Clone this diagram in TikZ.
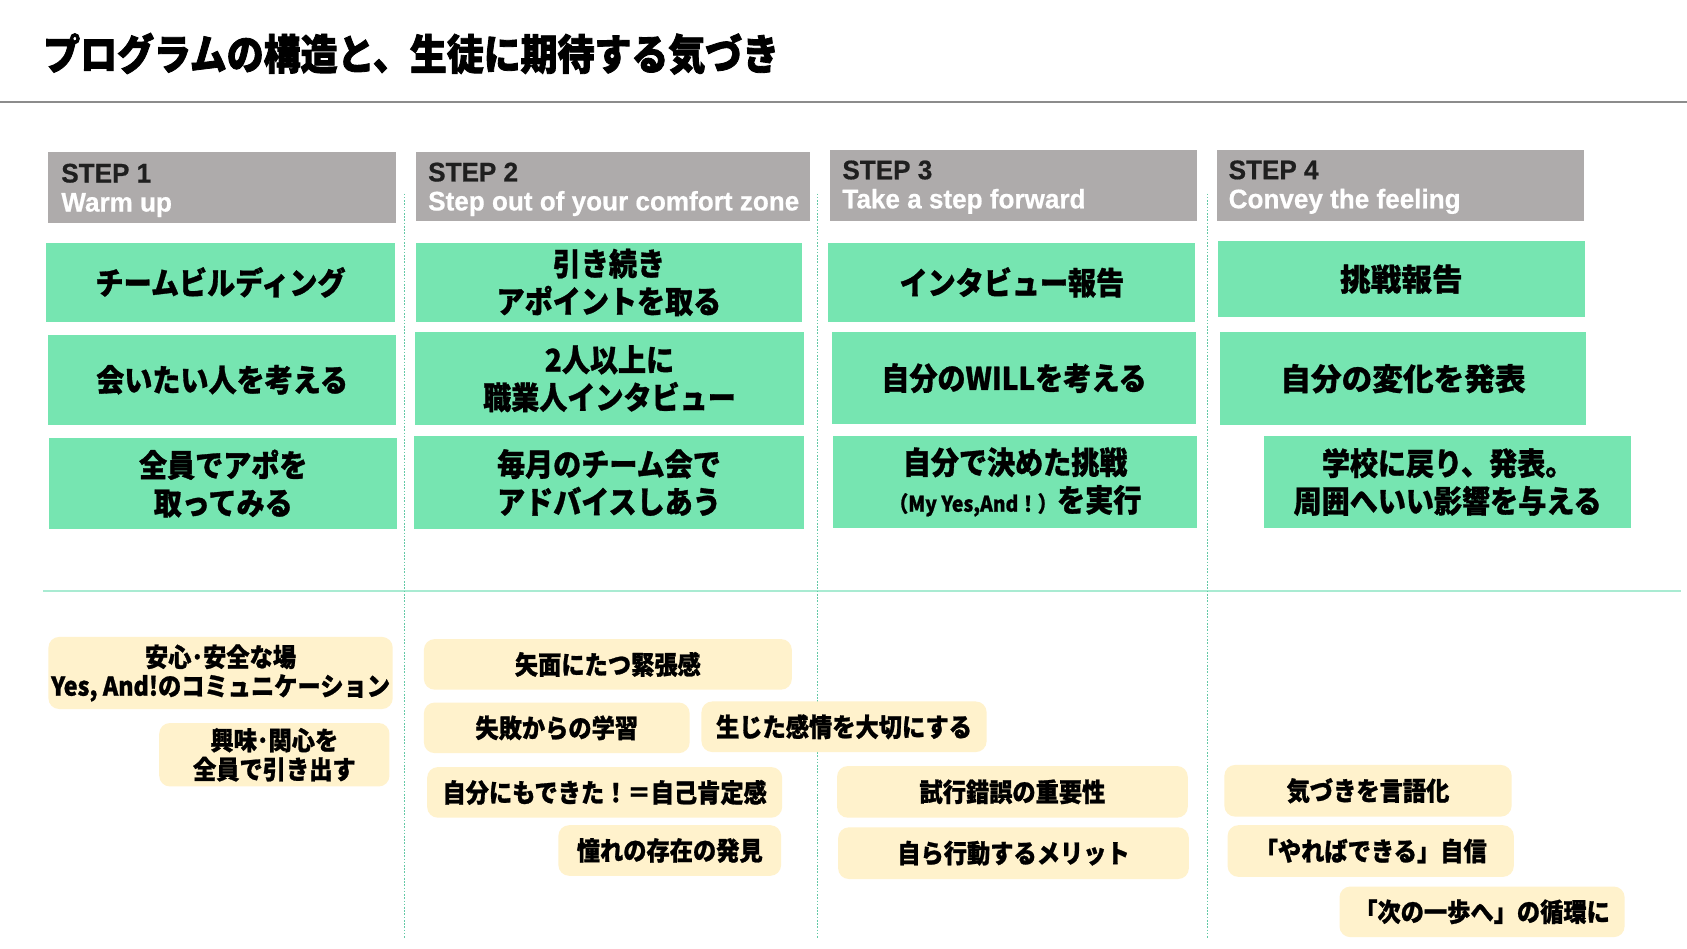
\documentclass[tikz,border=0pt]{standalone}
\usepackage{fontspec}
\newfontfamily\titlefont{Noto Sans CJK JP Black}[FakeStretch=0.88, FakeBold=2]
\newfontfamily\jpfont{Noto Sans CJK JP Black}[FakeStretch=0.9, FakeBold=1]
\newfontfamily\jpwide{Noto Sans CJK JP Black}[FakeBold=1]
\newfontfamily\headfont{Liberation Sans Bold}[FakeStretch=0.97, FakeBold=0.6]
\definecolor{headgray}{HTML}{AEABAB}
\definecolor{actgreen}{HTML}{76E5B1}
\definecolor{gaincream}{HTML}{FFF2CC}
\definecolor{sepgreen}{HTML}{63C9A6}
\definecolor{rulemint}{HTML}{A9EBD2}
\begin{document}
\begin{tikzpicture}[x=1pt,y=-1pt,
  wh/.style 2 args={minimum width=#1pt, minimum height=#2pt},
  head/.style={fill=headgray, inner sep=0pt},
  headtxt/.style={anchor=west, inner sep=0pt, align=left,
    text=black!88, font=\headfont\fontsize{25}{27}\selectfont},
  act/.style={fill=actgreen, inner sep=0pt, align=center,
    font=\jpfont\fontsize{29}{35}\selectfont},
  gain/.style={fill=gaincream, rounded corners=10pt, inner sep=0pt, align=center,
    font=\jpfont\fontsize{24}{27}\selectfont}]
\fill[white] (0,0) rectangle (1568,882);
\useasboundingbox (0,0) rectangle (1568,882);

% title and rules
\node[anchor=west, inner sep=0pt, font=\titlefont\fontsize{39}{39}\selectfont] (title) at (40,50)
  {プログラムの構造と、生徒に期待する気づき};
\draw[black!45, line width=1.5pt] (0,95) -- (1568,95);
\draw[rulemint, line width=2pt] (40,549) -- (1562,549);
\foreach \x in {376,760,1122}
  \draw[sepgreen, line width=0.9pt, dash pattern=on 1.5pt off 1.5pt] (\x,180) -- (\x,872);

% step headers
\node[head, wh={323}{66}] (h1) at (206.5,174) {};
\node[head, wh={366}{64}] (h2) at (570,173) {};
\node[head, wh={342}{66}] (h3) at (942,172) {};
\node[head, wh={341}{66}] (h4) at (1301.5,172) {};
\node[headtxt] (t1) at ([xshift=12pt,yshift=-3pt]h1.west) {STEP 1\\\textcolor{white}{Warm up}};
\node[headtxt] (t2) at ([xshift=11pt,yshift=-3pt]h2.west) {STEP 2\\\textcolor{white}{Step out of your comfort zone}};
\node[headtxt] (t3) at ([xshift=12pt,yshift=-2pt]h3.west) {STEP 3\\\textcolor{white}{Take a step forward}};
\node[headtxt] (t4) at ([xshift=11pt,yshift=-2pt]h4.west) {STEP 4\\\textcolor{white}{Convey the feeling}};

% activities
\node[act, wh={324}{73}] (a11) at (205,262.5) {チームビルディング};
\node[act, wh={323}{84}] (a12) at (206.5,353) {会いたい人を考える};
\node[act, wh={323}{85}] (a13) at (207.5,449.5) {全員でアポを\\取ってみる};
\node[act, wh={358}{73}] (a21) at (566,262.5) {引き続き\\アポイントを取る};
\node[act, wh={361}{86}] (a22) at (566.5,352) {2人以上に\\職業人インタビュー};
\node[act, wh={362}{87}] (a23) at (566,448.5) {毎月のチーム会で\\アドバイスしあう};
\node[act, wh={341}{73}] (a31) at (940.5,262.5) {インタビュー報告};
\node[act, wh={339}{85}] (a32) at (942.5,351.5) {自分のWILLを考える};
\node[act, wh={339}{86}] (a33) at (943.5,448)
  {自分で決めた挑戦\\{\fontsize{20}{35}\selectfont（My Yes,And！）}を実行};
\node[act, wh={341}{71}, font=\jpwide\fontsize{28.5}{35}\selectfont] (a41) at (1302.5,259.5) {挑戦報告};
\node[act, wh={340}{86}, font=\jpwide\fontsize{28.5}{35}\selectfont] (a42) at (1304,352) {自分の変化を発表};
\node[act, wh={341}{86}] (a43) at (1345.5,448) {学校に戻り、発表。\\周囲へいい影響を与える};

% expected insights
\node[gain, wh={320}{67}] (g11) at (205,625.5) {安心･安全な場\\Yes, And!のコミュニケーション};
\node[gain, wh={214}{59}] (g12) at (255,701.5) {興味･関心を\\全員で引き出す};
\node[gain, wh={342}{47}] (g21) at (565,617.5) {矢面にたつ緊張感};
\node[gain, wh={247}{47}] (g22) at (517.5,676.5) {失敗からの学習};
\node[gain, wh={265}{47}] (g23) at (784.5,675.5) {生じた感情を大切にする};
\node[gain, wh={330}{47}] (g24) at (562,736.5) {自分にもできた！＝自己肯定感};
\node[gain, wh={207}{47}] (g25) at (622.5,790.5) {憧れの存在の発見};
\node[gain, wh={326}{48}] (g31) at (941,736) {試行錯誤の重要性};
\node[gain, wh={326}{48}] (g32) at (942,793) {自ら行動するメリット};
\node[gain, wh={267}{48}] (g41) at (1271.5,735) {気づきを言語化};
\node[gain, wh={266}{48}] (g42) at (1274,791) {「やればできる」自信};
\node[gain, wh={265}{47}] (g43) at (1377.5,847.5) {「次の一歩へ」の循環に};
\end{tikzpicture}
\end{document}
